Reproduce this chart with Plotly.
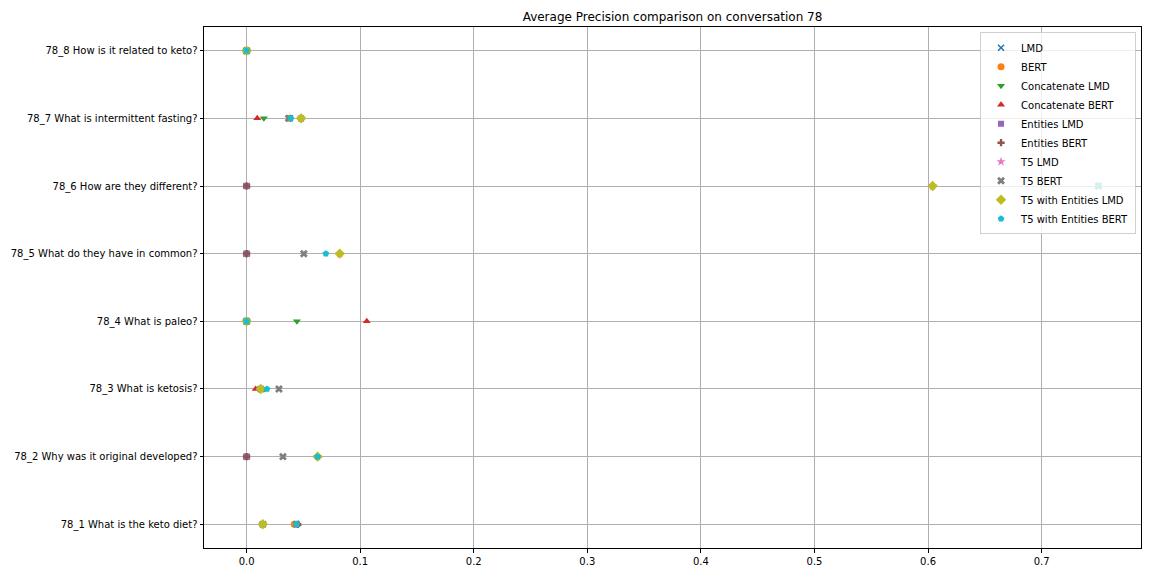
import plotly.graph_objects as go

questions = [
    "78_1 What is the keto diet?",
    "78_2 Why was it original developed?",
    "78_3 What is ketosis?",
    "78_4 What is paleo?",
    "78_5 What do they have in common?",
    "78_6 How are they different?",
    "78_7 What is intermittent fasting?",
    "78_8 How is it related to keto?",
]

lmd = [0.0143, 0.0, 0.0125, 0.0, 0.0, 0.0, 0.038, 0.0]
bert = [0.042, 0.0, 0.0125, 0.0, 0.0, 0.0, 0.038, 0.0]
concat_lmd = [0.0143, 0.0, 0.016, 0.0443, 0.0, 0.0, 0.0152, 0.0]
concat_bert = [0.045, 0.0, 0.008, 0.1058, 0.0, 0.0, 0.0094, 0.0]
entities_lmd = [0.0143, 0.0, 0.0125, 0.0, 0.0, 0.0, 0.048, 0.0]
entities_bert = [0.045, 0.0, 0.0125, 0.0, 0.0, 0.0, 0.048, 0.0]
t5_lmd = [0.0143, 0.0625, 0.0125, 0.0, 0.082, 0.604, 0.048, 0.0]
t5_bert = [0.044, 0.032, 0.0285, 0.0, 0.0504, 0.75, 0.037, 0.0]
t5_ent_lmd = [0.0143, 0.0625, 0.0125, 0.0, 0.082, 0.604, 0.048, 0.0]
t5_ent_bert = [0.044, 0.0625, 0.018, 0.0, 0.0698, 0.75, 0.039, 0.0]

series = [
    ("LMD", lmd, "x-thin", "#1f77b4", 6),
    ("BERT", bert, "circle", "#ff7f0e", 7),
    ("Concatenate LMD", concat_lmd, "triangle-down", "#2ca02c", 7),
    ("Concatenate BERT", concat_bert, "triangle-up", "#d62728", 7),
    ("Entities LMD", entities_lmd, "square", "#9467bd", 6),
    ("Entities BERT", entities_bert, "cross", "#8c564b", 6),
    ("T5 LMD", t5_lmd, "star", "#e377c2", 7),
    ("T5 BERT", t5_bert, "x", "#7f7f7f", 7),
    ("T5 with Entities LMD", t5_ent_lmd, "diamond", "#bcbd22", 8),
    ("T5 with Entities BERT", t5_ent_bert, "pentagon", "#17becf", 7),
]

fig = go.Figure()
for name, vals, sym, col, sz in series:
    line = dict(color=col, width=1.5 if sym == "x-thin" else 0)
    fig.add_trace(go.Scatter(
        x=vals, y=questions, mode="markers", name=name,
        marker=dict(symbol=sym, color=col, size=sz, line=line),
    ))

fig.update_layout(
    width=1152, height=576,
    paper_bgcolor="white", plot_bgcolor="white",
    font=dict(family="DejaVu Sans", size=10, color="black"),
    title=dict(text="Average Precision comparison on conversation 78",
               x=0.5, xanchor="center", xref="paper",
               y=1 - 9 / 576, yanchor="middle", yref="container",
               font=dict(size=12), automargin=False),
    margin=dict(l=196, r=19, t=19, b=36, autoexpand=False),
    showlegend=True,
    legend=dict(x=0.9947, y=0.99, xanchor="right", yanchor="top",
                bgcolor="rgba(255,255,255,0.8)", bordercolor="#d0d0d0", borderwidth=1,
                font=dict(size=10), tracegroupgap=0),
)
fig.update_xaxes(
    range=[-0.0375, 0.7875], tickvals=[0, 0.1, 0.2, 0.3, 0.4, 0.5, 0.6, 0.7],
    ticktext=["0.0", "0.1", "0.2", "0.3", "0.4", "0.5", "0.6", "0.7"],
    showgrid=True, gridcolor="#b0b0b0", gridwidth=0.8,
    showline=True, linecolor="black", linewidth=1, mirror=True,
    ticks="outside", ticklen=3.5, tickcolor="black", zeroline=False, automargin=False,
)
fig.update_yaxes(
    type="category", categoryorder="array", categoryarray=questions,
    range=[-0.35, 7.35],
    showgrid=True, gridcolor="#b0b0b0", gridwidth=0.8,
    showline=True, linecolor="black", linewidth=1, mirror=True,
    ticks="outside", ticklen=3.5, tickcolor="black", zeroline=False, automargin=False,
)

fig.write_html("out.html")
